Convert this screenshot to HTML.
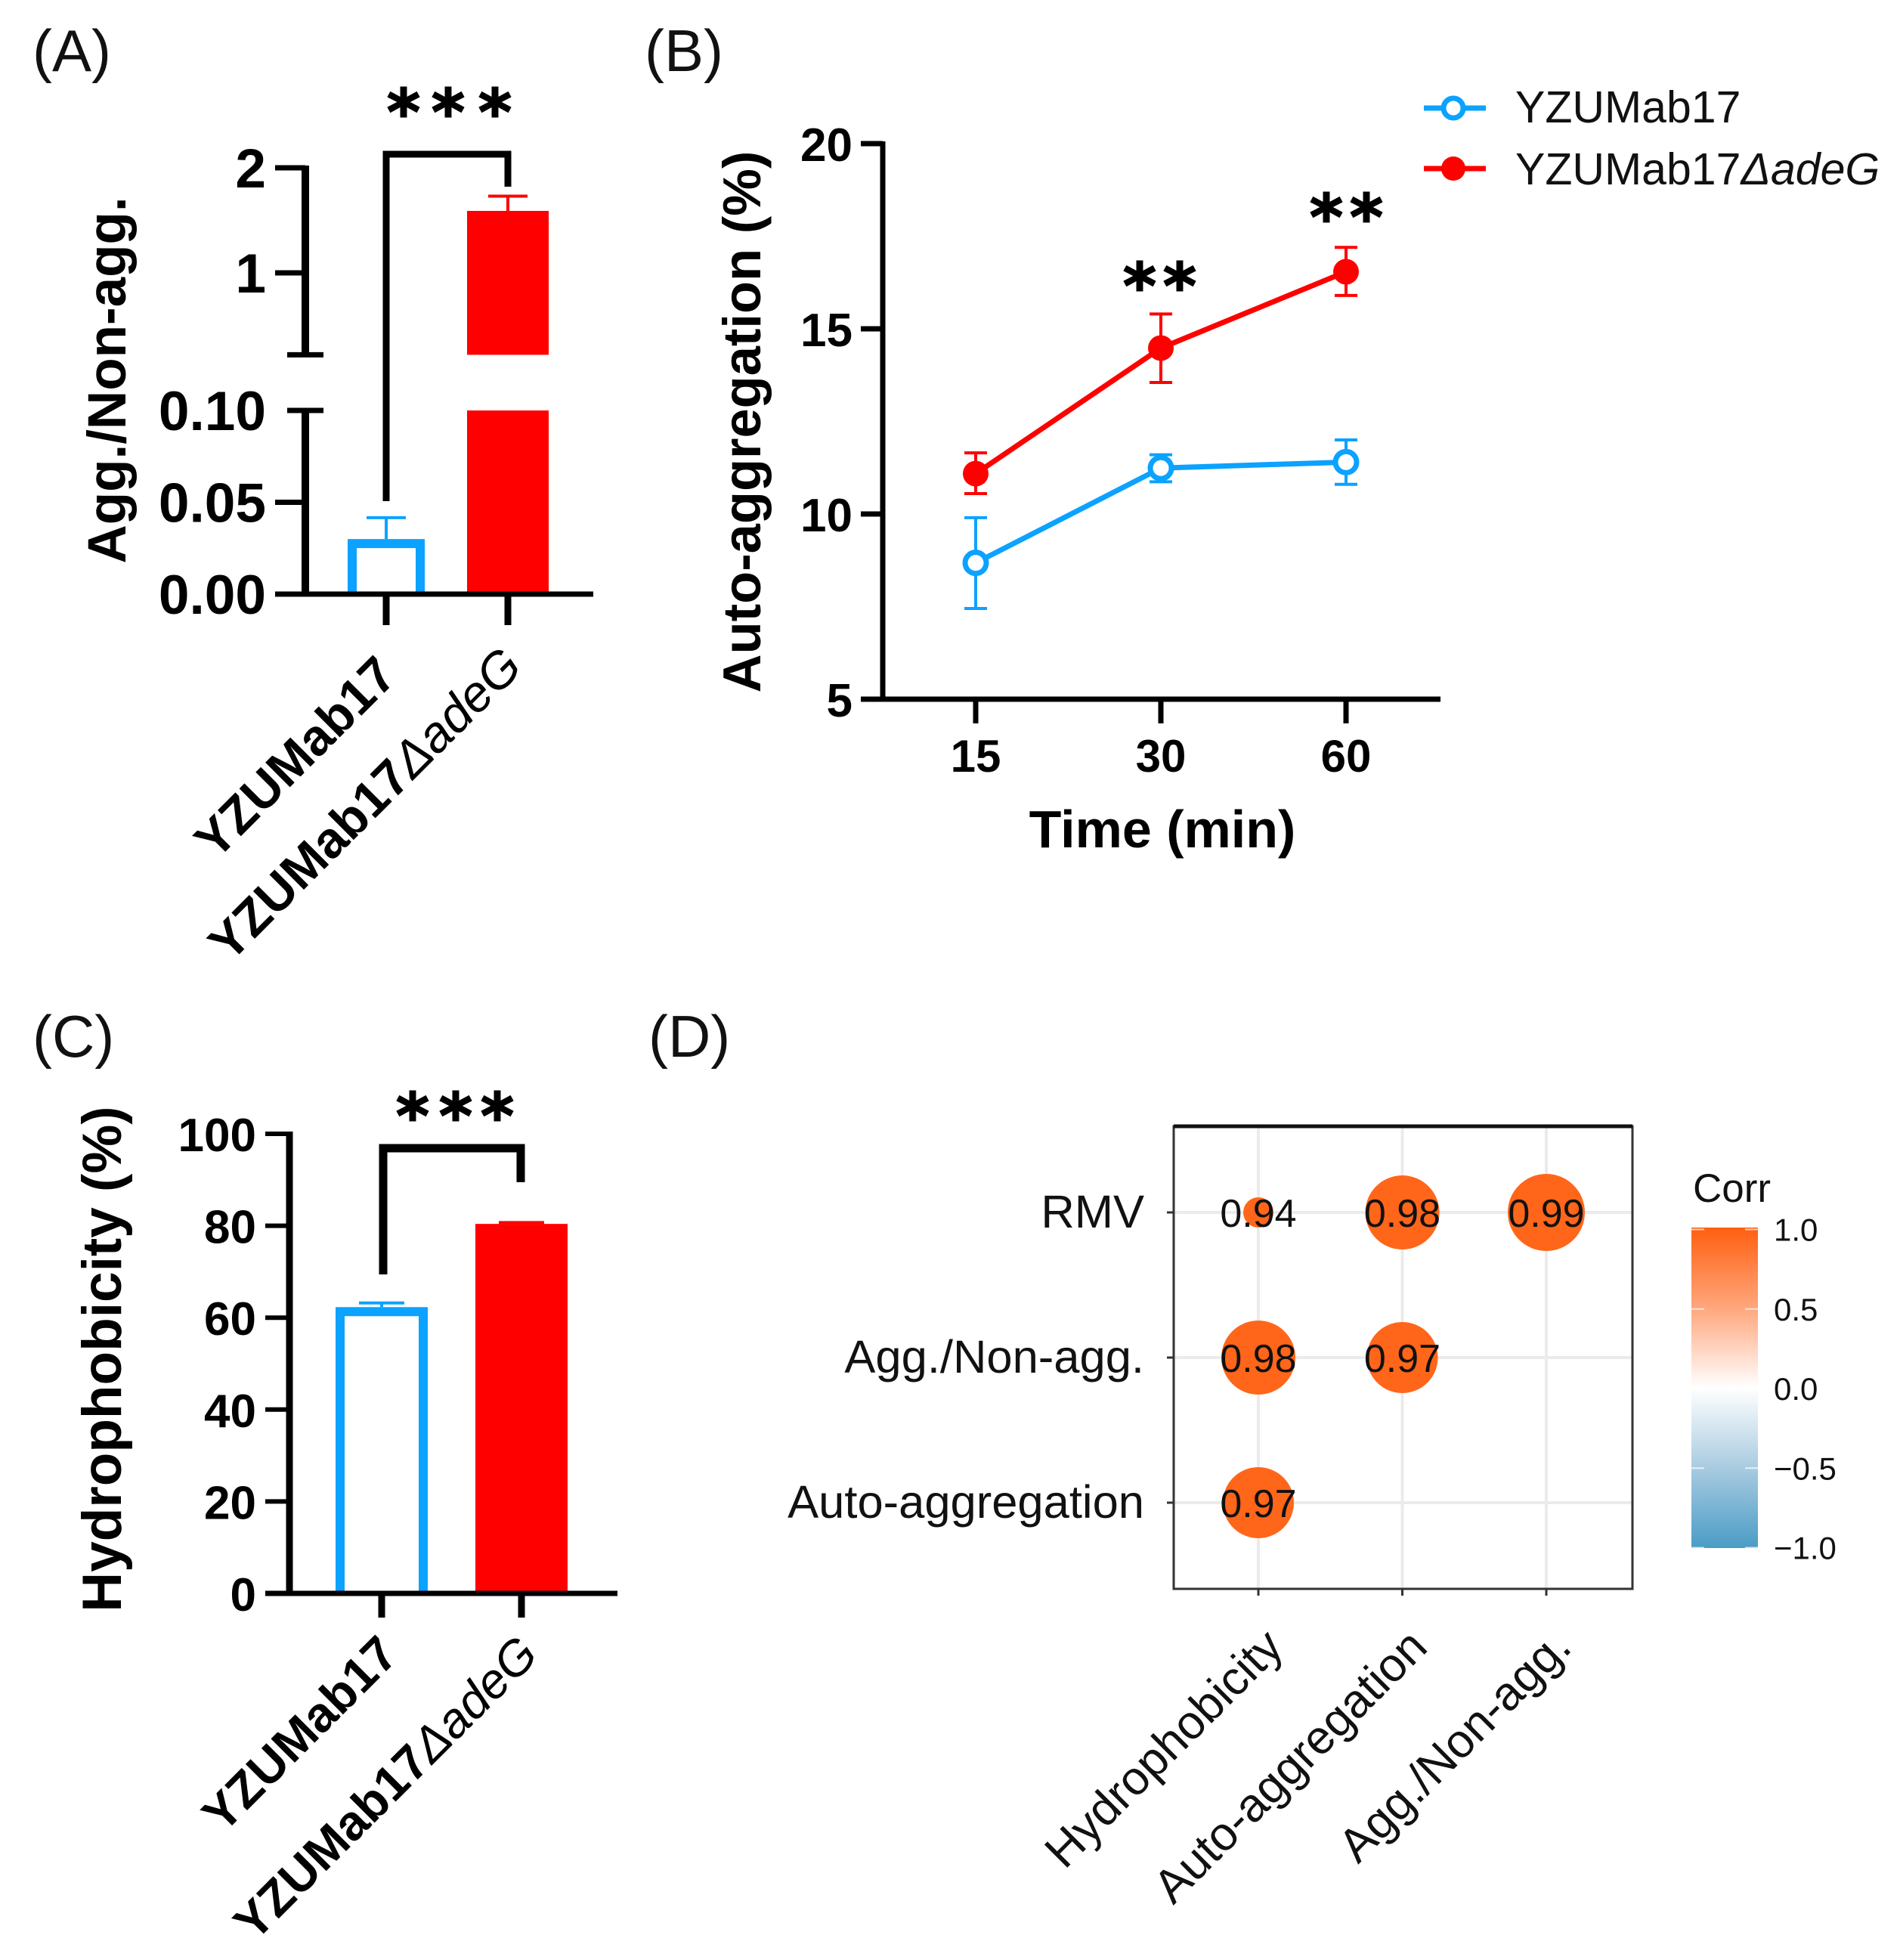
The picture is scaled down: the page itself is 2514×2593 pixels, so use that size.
<!DOCTYPE html>
<html lang="en">
<head>
<meta charset="utf-8">
<title>YZUMab17 aggregation figure</title>
<style>
html,body{margin:0;padding:0;background:#fff;width:2514px;height:2593px;overflow:hidden}
svg{display:block;font-family:"Liberation Sans",Arial,sans-serif}
.b{font-weight:bold}
.stars{font-family:"DejaVu Sans",sans-serif;font-weight:bold;font-size:84px;text-anchor:middle;stroke:#000;stroke-width:2px}
</style>
</head>
<body>
<svg id="fig" xmlns="http://www.w3.org/2000/svg" width="2514" height="2593" viewBox="0 0 2514 2593">
  <defs>
    <linearGradient id="corr-gradient" x1="0" y1="0" x2="0" y2="1">
      <stop offset="0" stop-color="#ff5f10"/>
      <stop offset="0.25" stop-color="#ffa67c"/>
      <stop offset="0.5" stop-color="#ffffff"/>
      <stop offset="0.75" stop-color="#a9cbe0"/>
      <stop offset="1" stop-color="#4a9cc6"/>
    </linearGradient>
  </defs>
  <rect width="2514" height="2593" fill="#fff"/>

  <text x="43" y="94" font-size="78" fill="#111">(A)</text>
  <text x="853" y="94" font-size="78" fill="#111">(B)</text>
  <text x="43" y="1398" font-size="78" fill="#111">(C)</text>
  <text x="858" y="1398" font-size="78" fill="#111">(D)</text>

  <g id="panel-a">
    <text class="b" transform="translate(166 503) rotate(-90)" text-anchor="middle" font-size="71">Agg./Non-agg.</text>
    <path d="M511 663V204H672V247" fill="none" stroke="#000" stroke-width="9"/>
    <g class="stars">
      <text x="534" y="178">*</text><text x="593" y="178">*</text><text x="655" y="178">*</text>
    </g>
  </g>

  <g id="panel-b">
    <text class="b" transform="translate(1006 558) rotate(-90)" text-anchor="middle" font-size="70.5">Auto-aggregation (%)</text>
    <text class="b" x="1538" y="1121" text-anchor="middle" font-size="70">Time (min)</text>
    <g>
      <g>
        <line x1="1876" x2="1958" y1="143" y2="143" stroke="#0ca2ff" stroke-width="7" transform="translate(8 0)"/>
        <circle cx="1923" cy="143" r="13" fill="#fff" stroke="#0ca2ff" stroke-width="7"/>
        <text x="2005" y="162" font-size="59" fill="#111">YZUMab17</text>
      </g>
      <g>
        <line x1="1876" x2="1958" y1="223" y2="223" stroke="#f00" stroke-width="7" transform="translate(8 0)"/>
        <circle cx="1923" cy="223" r="16" fill="#f00"/>
        <text x="2005" y="244" font-size="59" fill="#111">YZUMab17<tspan font-style="italic">ΔadeG</tspan></text>
      </g>
    </g>
    <g class="stars">
      <text x="1508" y="408">*</text><text x="1561" y="408">*</text>
      <text x="1755" y="317">*</text><text x="1808" y="317">*</text>
    </g>
  </g>

  <g id="panel-c">
    <text class="b" transform="translate(160 1798) rotate(-90)" text-anchor="middle" font-size="73">Hydrophobicity (%)</text>
    <path d="M507 1686V1519H689V1564" fill="none" stroke="#000" stroke-width="11"/>
    <g class="stars">
      <text x="546" y="1506">*</text><text x="603" y="1506">*</text><text x="658" y="1506">*</text>
    </g>
  </g>

  <g id="panel-d">
    <text x="2240" y="1590" font-size="53" fill="#111">Corr</text>
    <rect x="2238" y="1624" width="88" height="424" fill="url(#corr-gradient)"/>
  </g>

<script>
// ---- Panel A data ----
const aCategories = ['YZUMab17', 'YZUMab17ΔadeG'];
const aMeans = [0.03, 1.59];
const aErrors = [0.0116, 0.14];
const aTicks = [0, 0.05, 0.1, 1, 2];
const aTickLabels = ['0.00', '0.05', '0.10', '1', '2'];
const aBreakLow = 0.1;
const aBreakHigh = 0.22;

// ---- Panel B data ----
const bTimes = ['15', '30', '60'];
const bParentMean = [8.68, 11.24, 11.4];
const bParentHigh = [9.9, 11.6, 12.0];
const bParentLow = [7.45, 10.87, 10.8];
const bMutantMean = [11.09, 14.48, 16.54];
const bMutantHigh = [11.65, 15.4, 17.2];
const bMutantLow = [10.55, 13.55, 15.9];
const bTicks = [5, 10, 15, 20];

// ---- Panel C data ----
const cCategories = ['YZUMab17', 'YZUMab17ΔadeG'];
const cMeans = [62.3, 80.4];
const cErrors = [0.9, 0.3];
const cTicks = [0, 20, 40, 60, 80, 100];

// ---- Panel D data ----
const dRows = ['RMV', 'Agg./Non-agg.', 'Auto-aggregation'];
const dCols = ['Hydrophobicity', 'Auto-aggregation', 'Agg./Non-agg.'];
const dRmv = [0.94, 0.98, 0.99];
const dAgg = [0.98, 0.97, null];
const dAuto = [0.97, null, null];
const cbTicks = [1, 0.5, 0, -0.5, -1];
const cbTickLabels = ['1.0', '0.5', '0.0', '\u22120.5', '\u22121.0'];

const NS = 'http://www.w3.org/2000/svg';
const BLUE = '#0ca2ff', RED = '#ff0000';

function make(parent, tag, attrs, text) {
  const el = document.createElementNS(NS, tag);
  for (const k in attrs) el.setAttribute(k, attrs[k]);
  if (text !== undefined) el.textContent = text;
  parent.appendChild(el);
  return el;
}

// Category label: strain name is bold, the deletion suffix is thin italic
function strainLabel(parent, label, x, y, size) {
  const el = make(parent, 'text', { x: x, y: y, 'text-anchor': 'end', 'font-size': size, 'font-weight': 'bold',
    transform: 'rotate(-45 ' + x + ' ' + y + ')' });
  const cut = label.indexOf('Δ');
  if (cut < 0) { el.textContent = label; return el; }
  const head = document.createElementNS(NS, 'tspan');
  head.textContent = label.slice(0, cut);
  el.appendChild(head);
  const tail = document.createElementNS(NS, 'tspan');
  tail.setAttribute('font-style', 'italic');
  tail.setAttribute('font-weight', 'normal');
  tail.textContent = label.slice(cut);
  el.appendChild(tail);
  return el;
}

/* ===================== Panel A ===================== */
(function () {
  const g = document.getElementById('panel-a');
  const yA = v => v <= aBreakLow ? 786 - v * 2430 : 361 - (v - 1) * 139;
  const xA = i => 511 + 161 * i;
  const axisX = 404;

  aMeans.forEach(function (m, i) {
    const cx = xA(i);
    const cap = make(g, 'path', { d: 'M' + (cx - 26) + ' ' + yA(m + aErrors[i]) + 'h52M' + cx + ' ' + yA(m + aErrors[i]) + 'V' + yA(m),
      fill: 'none', stroke: i ? RED : BLUE, 'stroke-width': 4 });
    
    
    if (i === 0) {
      const bar = make(g, 'path', { d: 'M' + (cx - 45) + ' ' + yA(0) + 'V' + (yA(m) + 6) + 'H' + (cx + 45) + 'V' + yA(0), fill: '#fff', stroke: BLUE, 'stroke-width': 12 });
      
      
    } else {
      const low = make(g, 'rect', { x: cx - 54, y: yA(aBreakLow), width: 108, height: yA(0) - yA(aBreakLow), fill: RED });
      
      
      const high = make(g, 'rect', { x: cx - 54, y: yA(m), width: 108, height: yA(aBreakHigh) - yA(m), fill: RED });
      
      
    }
  });

  const lower = make(g, 'line', { x1: axisX, x2: axisX, y1: yA(aBreakLow), y2: yA(0), stroke: '#000', 'stroke-width': 10 });
  
  
  const upper = make(g, 'line', { x1: axisX, x2: axisX, y1: yA(2) - 3, y2: yA(aBreakHigh), stroke: '#000', 'stroke-width': 10 });
  
  
  const capHigh = make(g, 'line', { x1: 380, x2: 428, y1: yA(aBreakHigh), y2: yA(aBreakHigh), stroke: '#000', 'stroke-width': 7 });
  
  
  const base = make(g, 'line', { x1: 364, x2: 785, y1: yA(0), y2: yA(0), stroke: '#000', 'stroke-width': 7 });
  
  

  aTicks.forEach(function (t, i) {
    const isBreak = t === aBreakLow;
    const tick = make(g, 'line', { x1: isBreak ? 380 : 364, x2: isBreak ? 428 : axisX, y1: yA(t), y2: yA(t), stroke: '#000', 'stroke-width': 7 });
    
    
    const lab = make(g, 'text', { x: 352, y: yA(t) + 26, 'text-anchor': 'end', 'font-size': 73, 'font-weight': 'bold' }, aTickLabels[i]);
    
    
  });

  aCategories.forEach(function (c, i) {
    const tick = make(g, 'line', { x1: xA(i), x2: xA(i), y1: yA(0), y2: 827, stroke: '#000', 'stroke-width': 9 });
    
    
    const lab = strainLabel(g, c, xA(i) + 17 + 5 * i, 897 - 12 * i, 67);
    
    
  });
})();

/* ===================== Panel B ===================== */
(function () {
  const g = document.getElementById('panel-b');
  const yB = v => 925 - (v - 5) * 49;
  const xB = i => 1291 + 245 * i;

  const yAxis = make(g, 'line', { x1: 1168, x2: 1168, y1: yB(20) - 3, y2: yB(5), stroke: '#000', 'stroke-width': 7 });
  
  
  const xAxis = make(g, 'line', { x1: 1139, x2: 1906, y1: yB(5), y2: yB(5), stroke: '#000', 'stroke-width': 7 });
  
  

  bTicks.forEach(function (t) {
    const tick = make(g, 'line', { x1: 1139, x2: 1168, y1: yB(t), y2: yB(t), stroke: '#000', 'stroke-width': 7 });
    
    
    const lab = make(g, 'text', { x: 1128, y: yB(t) + 23, 'text-anchor': 'end', 'font-size': 62, 'font-weight': 'bold' }, String(t));
    
    
  });

  bTimes.forEach(function (t, i) {
    const tick = make(g, 'line', { x1: xB(i), x2: xB(i), y1: yB(5), y2: 957, stroke: '#000', 'stroke-width': 7 });
    
    
    const lab = make(g, 'text', { x: xB(i), y: 1021, 'text-anchor': 'middle', 'font-size': 60, 'font-weight': 'bold' }, t);
    
    
  });

  function drawSeries(means, highs, lows, color, hollow, name) {
    const line = make(g, 'polyline', { points: means.map((m, i) => xB(i) + ',' + yB(m)).join(' '), fill: 'none', stroke: color, 'stroke-width': 7 });
    
    
    means.forEach(function (m, i) {
      const x = xB(i);
      const err = make(g, 'path', { d: 'M' + (x - 15) + ' ' + yB(highs[i]) + 'h30M' + x + ' ' + yB(highs[i]) + 'V' + yB(lows[i]) + 'M' + (x - 15) + ' ' + yB(lows[i]) + 'h30',
        fill: 'none', stroke: color, 'stroke-width': 4 });
      
      
      const pt = make(g, 'circle', hollow
        ? { cx: x, cy: yB(m), r: 14, fill: '#fff', stroke: color, 'stroke-width': 7 }
        : { cx: x, cy: yB(m), r: 17, fill: color });
      
      
    });
  }
  drawSeries(bParentMean, bParentHigh, bParentLow, BLUE, true, 'parent');
  drawSeries(bMutantMean, bMutantHigh, bMutantLow, RED, false, 'mutant');
})();

/* ===================== Panel C ===================== */
(function () {
  const g = document.getElementById('panel-c');
  const yC = v => 2108 - v * 6.08;
  const xC = i => 505 + 185 * i;

  cMeans.forEach(function (m, i) {
    const cx = xC(i);
    const err = make(g, 'path', { d: 'M' + (cx - 30) + ' ' + yC(m + cErrors[i]) + 'h60M' + cx + ' ' + yC(m + cErrors[i]) + 'V' + yC(m),
      fill: 'none', stroke: i ? RED : BLUE, 'stroke-width': 4 });
    
    
    const bar = i === 0
      ? make(g, 'path', { d: 'M' + (cx - 55) + ' ' + yC(0) + 'V' + (yC(m) + 6) + 'H' + (cx + 55) + 'V' + yC(0), fill: '#fff', stroke: BLUE, 'stroke-width': 12 })
      : make(g, 'rect', { x: cx - 61, y: yC(m), width: 122, height: yC(0) - yC(m), fill: RED });
    
    
  });

  const yAxis = make(g, 'line', { x1: 383, x2: 383, y1: yC(100) - 3, y2: yC(0), stroke: '#000', 'stroke-width': 9 });
  
  
  const xAxis = make(g, 'line', { x1: 351, x2: 817, y1: yC(0), y2: yC(0), stroke: '#000', 'stroke-width': 7 });
  
  

  cTicks.forEach(function (t) {
    const tick = make(g, 'line', { x1: 351, x2: 383, y1: yC(t), y2: yC(t), stroke: '#000', 'stroke-width': 6 });
    
    
    const lab = make(g, 'text', { x: 339, y: yC(t) + 23, 'text-anchor': 'end', 'font-size': 62, 'font-weight': 'bold' }, String(t));
    
    
  });

  cCategories.forEach(function (c, i) {
    const tick = make(g, 'line', { x1: xC(i), x2: xC(i), y1: yC(0), y2: 2140, stroke: '#000', 'stroke-width': 9 });
    
    
    const lab = strainLabel(g, c, xC(i) + 25, 2192, 65);
    
    
  });
})();

/* ===================== Panel D ===================== */
(function () {
  const g = document.getElementById('panel-d');
  const xD = i => 1665 + 190.5 * i;
  const yD = j => 1604 + 192 * j;
  const left = 1553, right = 2160, top = 1490, bottom = 2102;
  // size scale: correlation -> circle radius
  const rD = v => v <= 0.97 ? 20 + (v - 0.94) / 0.03 * 27 : 47 + (v - 0.97) / 0.02 * 4;
  const matrix = [dRmv, dAgg, dAuto];

  dCols.forEach(function (c, i) {
    const grid = make(g, 'line', { x1: xD(i), x2: xD(i), y1: top, y2: bottom, stroke: '#ebebeb', 'stroke-width': 4 });
    
    
    const tick = make(g, 'line', { x1: xD(i), x2: xD(i), y1: bottom, y2: bottom + 9, stroke: '#333', 'stroke-width': 3 });
    
    
    const lx = xD(i) + 36, ly = 2182;
    const lab = make(g, 'text', { x: lx, y: ly, 'text-anchor': 'end', 'font-size': 62.5, fill: '#111', transform: 'rotate(-45 ' + lx + ' ' + ly + ')' }, c);
    
    
  });

  dRows.forEach(function (r, j) {
    const grid = make(g, 'line', { x1: left, x2: right, y1: yD(j), y2: yD(j), stroke: '#ebebeb', 'stroke-width': 4 });
    
    
    const tick = make(g, 'line', { x1: left - 9, x2: left, y1: yD(j), y2: yD(j), stroke: '#333', 'stroke-width': 3 });
    
    
    const lab = make(g, 'text', { x: 1514, y: yD(j) + 20, 'text-anchor': 'end', 'font-size': 61.5, fill: '#111' }, r);
    
    
  });

  matrix.forEach(function (row, j) {
    row.forEach(function (v, i) {
      if (v === null) return;
      const dot = make(g, 'ellipse', { cx: xD(i), cy: yD(j), rx: rD(v), ry: rD(v), fill: '#ff661a' });
      
      
      const val = make(g, 'text', { x: xD(i), y: yD(j) + 19, 'text-anchor': 'middle', 'font-size': 52, fill: '#111' }, v.toFixed(2));
      
      
    });
  });

  const frame = make(g, 'rect', { x: left, y: top, width: right - left, height: bottom - top, fill: 'none', stroke: '#333', 'stroke-width': 3 });
  
  
  const frameTop = make(g, 'line', { x1: left, x2: right, y1: top, y2: top, stroke: '#111', 'stroke-width': 5 });
  
  

  const yCb = v => 1837 - v * 210.5;
  cbTicks.forEach(function (t, i) {
    const mark = make(g, 'path', { d: 'M2238 ' + yCb(t) + 'h17M2309 ' + yCb(t) + 'h17', stroke: '#fff', 'stroke-width': 2, opacity: 0.7, fill: 'none' });
    
    
    const lab = make(g, 'text', { x: 2347, y: yCb(t) + 15, 'font-size': 42, fill: '#111' }, cbTickLabels[i]);
    
    
  });
})();
</script>
</svg>
</body>
</html>
